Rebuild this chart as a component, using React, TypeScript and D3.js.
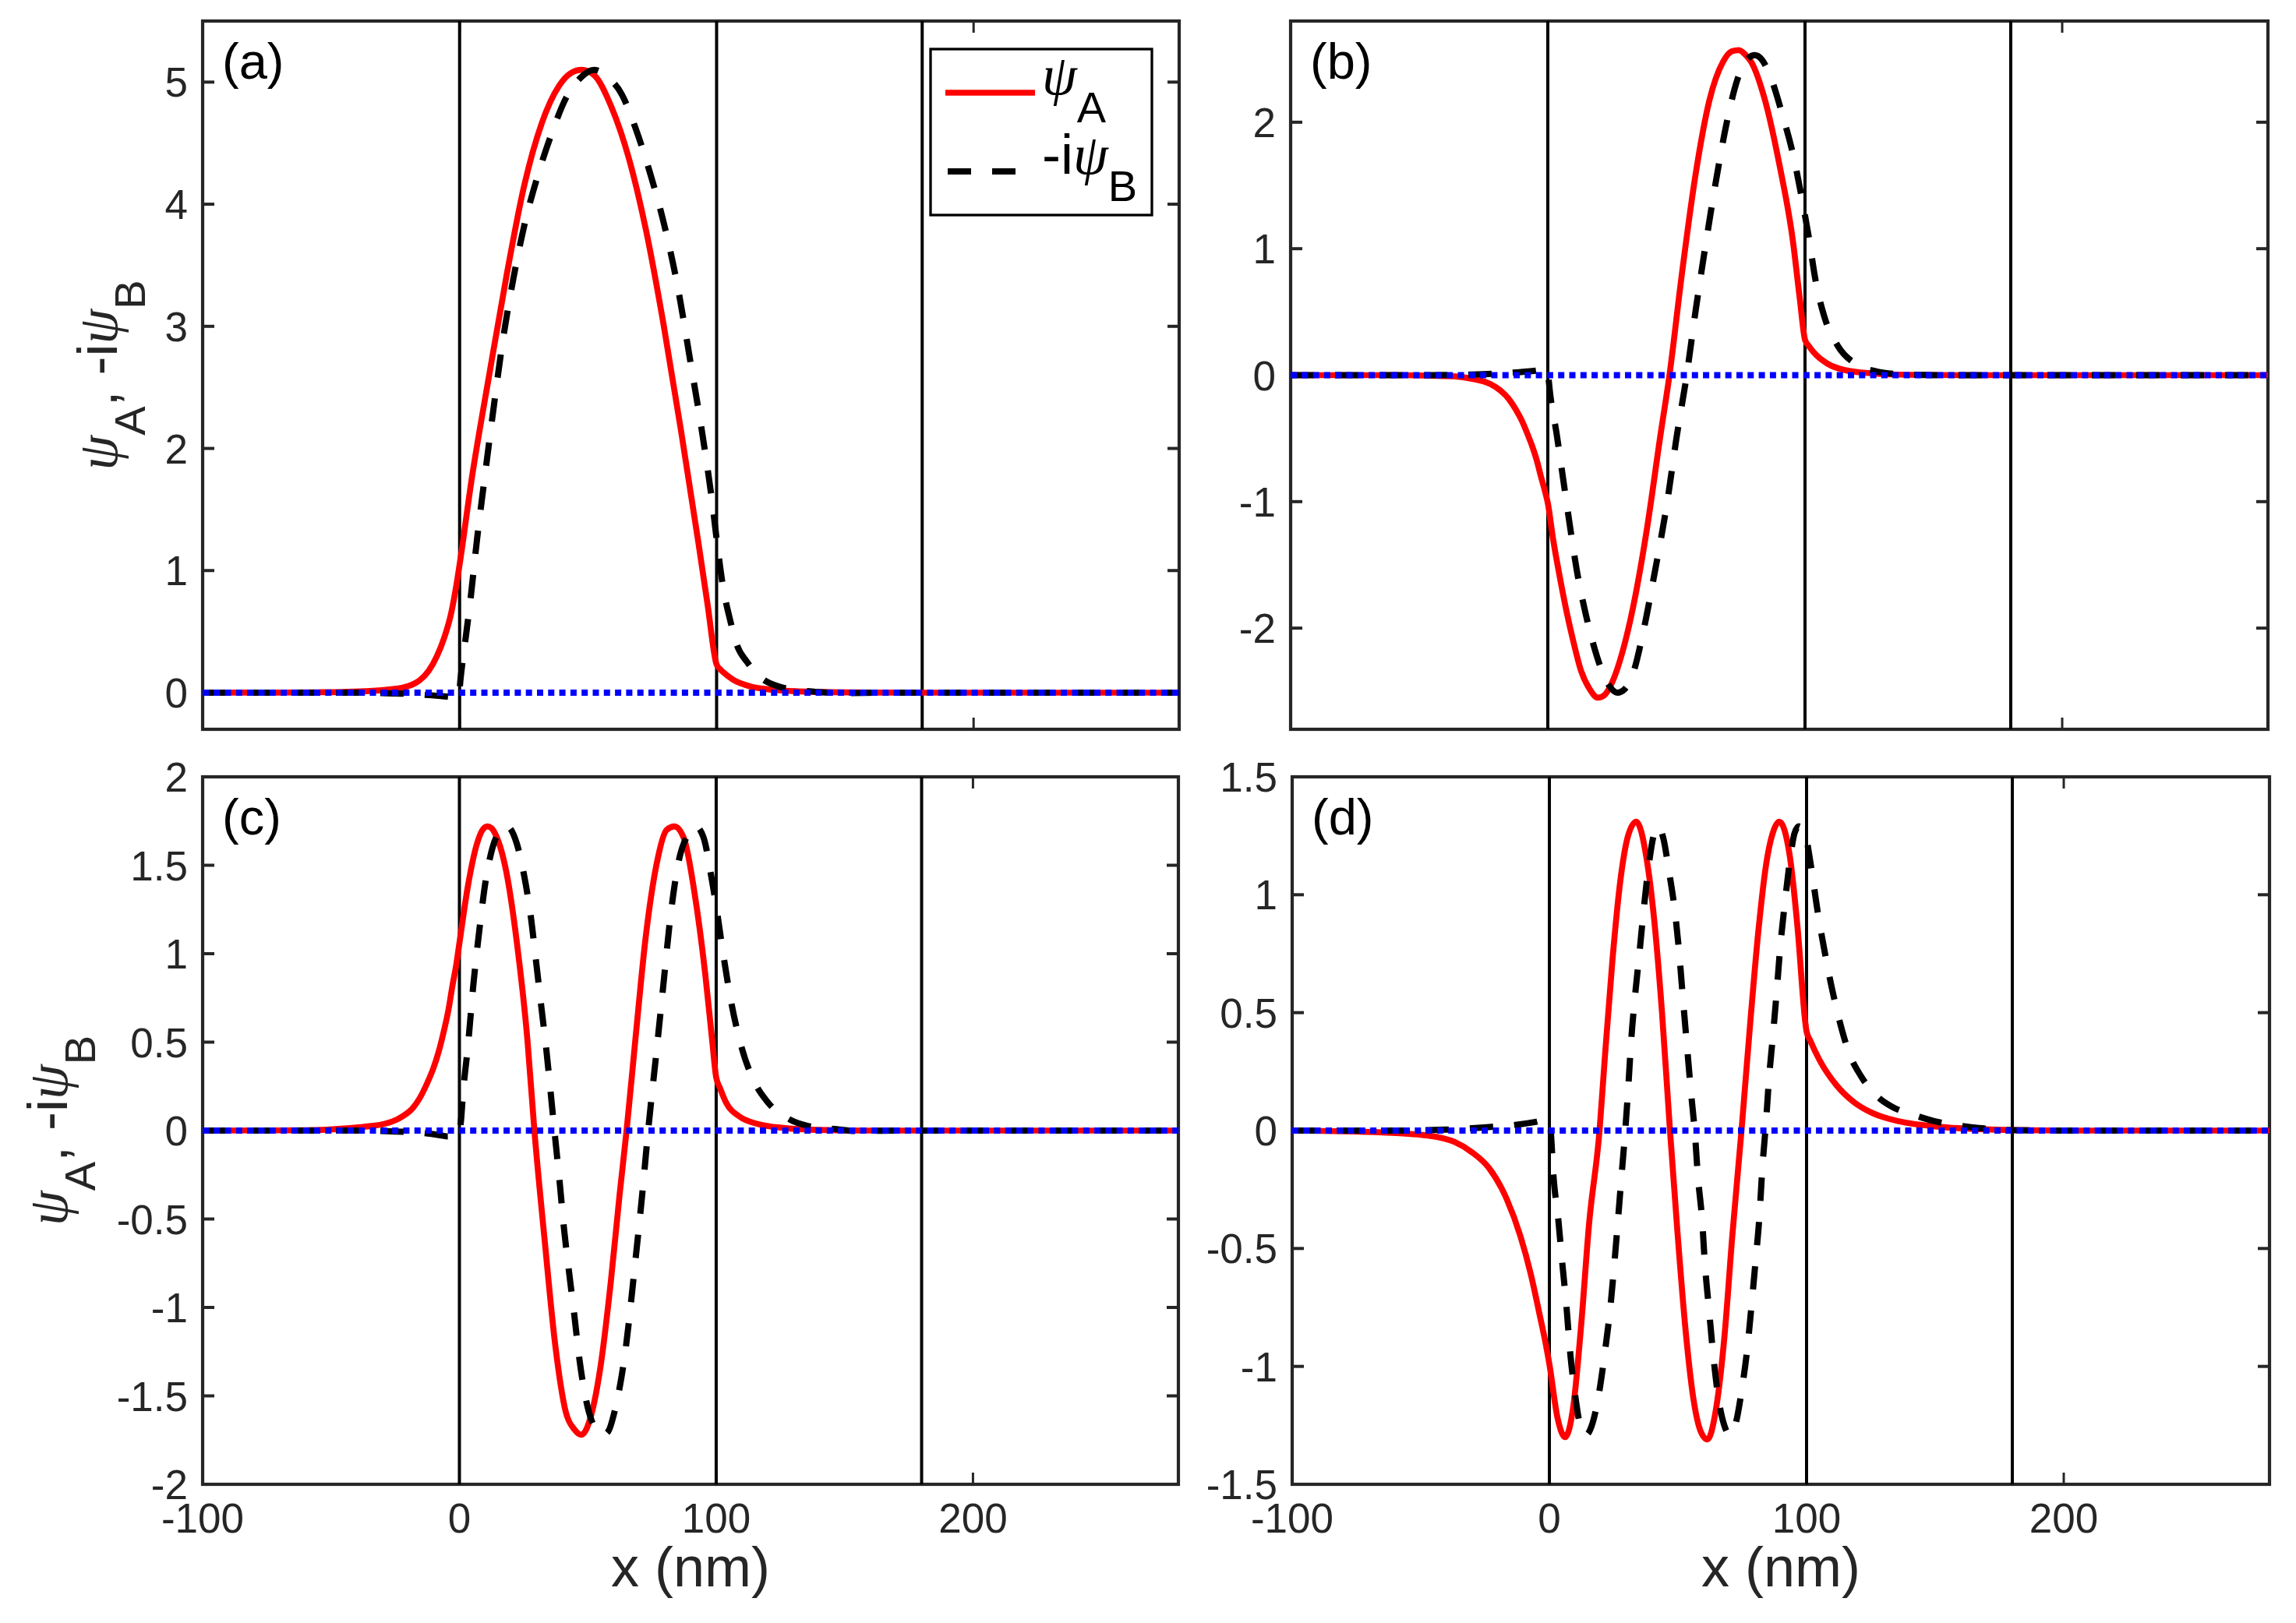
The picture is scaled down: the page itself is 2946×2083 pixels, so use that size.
import React from "react";
import * as d3 from "d3";

type Pt = [number, number];

// ---------- data ----------
const xDomain: [number, number] = [-100, 280];
const xTicks = [-100, 0, 100, 200];
const boundaries = [0, 100, 180];

const yDomainA: [number, number] = [-0.3, 5.5];
const yTicksA = [0, 1, 2, 3, 4, 5];
const yDomainB: [number, number] = [-2.8, 2.8];
const yTicksB = [-2, -1, 0, 1, 2];
const yDomainC: [number, number] = [-2, 2];
const yTicksC = [-2, -1.5, -1, -0.5, 0, 0.5, 1, 1.5, 2];
const yDomainD: [number, number] = [-1.5, 1.5];
const yTicksD = [-1.5, -1, -0.5, 0, 0.5, 1, 1.5];

const imagLine: Pt[] = [[-100, 0], [280, 0]];

const aPsiA: Pt[] = [[-100,0],[-70,0.001],[-55,0.003],[-45,0.006],[-35,0.013],[-28,0.025],[-22.4,0.04],[-18,0.07],[-15.6,0.1],[-12,0.18],[-8.8,0.3],[-6,0.45],[-3.4,0.64],[-1.5,0.85],[0,1.05],[4.7,1.75],[11.5,2.6],[18.3,3.42],[25.1,4.15],[31.9,4.66],[38.7,4.97],[43,5.07],[47.5,5.1],[52.2,5.06],[59,4.8],[65.8,4.38],[72.6,3.78],[79.4,3.01],[86.2,2.14],[92.9,1.23],[96.5,0.72],[100,0.23],[101.5,0.19],[103,0.16],[106.5,0.105],[113.3,0.05],[120,0.028],[126.9,0.016],[140,0.005],[160,0.001],[180,0],[280,0]];
const aPsiB: Pt[] = [[-100,0],[-45,0],[-30,-0.004],[-20,-0.01],[-12,-0.02],[-6,-0.03],[-2,-0.035],[-0.3,-0.03],[0.3,0.1],[2,0.39],[4.1,0.74],[6.8,1.26],[9.5,1.72],[12.9,2.28],[17,2.91],[21,3.4],[25.1,3.82],[30.5,4.24],[36,4.59],[41.4,4.87],[46.8,5.03],[52.2,5.1],[57.7,5.04],[63.1,4.9],[68.5,4.62],[73.9,4.27],[79.4,3.85],[84.8,3.33],[90.2,2.66],[94.3,2.14],[98.4,1.54],[100,1.26],[102.4,0.88],[105.2,0.6],[107.9,0.39],[111.9,0.25],[117.4,0.12],[124.2,0.05],[132.3,0.02],[140,0.005],[150,-0.004],[165,0],[280,0]];

const bPsiA: Pt[] = [[-100,0],[-56,0],[-45,-0.004],[-35.8,-0.01],[-29,-0.03],[-22.3,-0.07],[-18.5,-0.12],[-15.5,-0.18],[-12.5,-0.27],[-10.1,-0.36],[-8,-0.46],[-6.1,-0.56],[-4.2,-0.68],[-2.7,-0.8],[-1.2,-0.91],[0,-1.01],[2,-1.29],[4.7,-1.6],[7.4,-1.88],[10.1,-2.12],[12.8,-2.33],[16.2,-2.48],[19.5,-2.55],[22,-2.53],[25,-2.43],[29,-2.19],[33.1,-1.84],[38.5,-1.22],[43.9,-0.46],[47.3,0],[52,0.78],[57.4,1.58],[62.8,2.17],[68.2,2.48],[71.5,2.56],[74.3,2.57],[77,2.53],[79,2.48],[84.5,2.17],[89.9,1.68],[95.3,1.06],[98,0.6],[100,0.28],[101.5,0.23],[103.4,0.18],[108.8,0.09],[115.5,0.04],[126.4,0.014],[140,0.003],[160,0],[280,0]];
const bPsiB: Pt[] = [[-100,0],[-45,0],[-30,0.005],[-20,0.012],[-12,0.022],[-6,0.032],[-2,0.04],[-0.3,0.04],[0.3,-0.03],[0.7,-0.11],[3.4,-0.46],[6.1,-0.84],[8.8,-1.22],[11.5,-1.57],[14.2,-1.84],[17.6,-2.12],[20.9,-2.33],[24,-2.46],[27,-2.51],[30,-2.48],[33.1,-2.36],[37.2,-2.02],[41.2,-1.6],[46.6,-0.98],[50,-0.5],[54,0],[57.4,0.5],[61.5,1.05],[65.5,1.55],[69.6,2.0],[73.6,2.33],[77.7,2.5],[80.5,2.53],[83,2.5],[85.8,2.4],[91.2,2.06],[95.3,1.75],[99.3,1.34],[101.4,1.1],[104.1,0.75],[107.4,0.47],[112.8,0.23],[119.6,0.09],[127.7,0.03],[135,0.01],[150,0],[280,0]];

const cPsiA: Pt[] = [[-100,0],[-60,0.002],[-42.7,0.014],[-35,0.025],[-29.2,0.038],[-22.4,0.078],[-18,0.13],[-15.6,0.18],[-12.5,0.27],[-10.2,0.35],[-8,0.45],[-6.1,0.56],[-4.3,0.68],[-2.7,0.82],[-1.2,0.94],[0,1.06],[3.4,1.39],[6.8,1.62],[9,1.7],[10.9,1.72],[12.5,1.71],[14.2,1.67],[18.3,1.46],[22.4,1.06],[26.5,0.51],[29.2,0],[33.2,-0.62],[37.3,-1.21],[41.4,-1.59],[44.8,-1.69],[47.5,-1.72],[50.9,-1.63],[55,-1.33],[59,-0.85],[62.4,-0.36],[65.1,0],[68.5,0.51],[72.6,1.1],[76.7,1.5],[80.7,1.7],[83.7,1.72],[87.5,1.65],[91.6,1.34],[95.7,0.89],[98.5,0.5],[100,0.3],[101.5,0.24],[103.8,0.16],[109.2,0.078],[116,0.038],[126.9,0.014],[140,0.004],[160,0],[280,0]];
const cPsiB: Pt[] = [[-100,0],[-40,0],[-25,-0.005],[-15,-0.012],[-8,-0.025],[-4.7,-0.033],[-1,-0.03],[0,0],[0.5,0.04],[1.4,0.21],[3.4,0.49],[5.4,0.82],[7.5,1.1],[10.2,1.41],[12.9,1.6],[15.6,1.69],[18.5,1.72],[22.4,1.62],[25.1,1.45],[27.8,1.21],[29.9,0.95],[31.9,0.7],[33.9,0.45],[35.3,0.25],[37,0],[39.1,-0.3],[40.7,-0.55],[42.7,-0.8],[44.8,-1.05],[46.8,-1.3],[49,-1.5],[51.5,-1.64],[54,-1.7],[56,-1.72],[58,-1.7],[60.4,-1.59],[64.5,-1.26],[68.5,-0.74],[71.2,-0.36],[73.5,0],[76.7,0.44],[79.4,0.82],[82.1,1.2],[85.5,1.53],[88.9,1.67],[92,1.72],[95,1.66],[98.4,1.41],[100,1.27],[102.4,1.03],[105.8,0.73],[109.9,0.47],[114.7,0.28],[120.1,0.16],[128.2,0.066],[136.4,0.024],[147,0.008],[155,-0.003],[170,0],[280,0]];

const dPsiA: Pt[] = [[-100,0],[-80,-0.003],[-65,-0.008],[-57,-0.012],[-50,-0.018],[-43.6,-0.027],[-36.9,-0.048],[-30.1,-0.092],[-23.4,-0.16],[-16.6,-0.29],[-11.2,-0.45],[-7.2,-0.61],[-3.8,-0.78],[-1.5,-0.9],[0,-0.99],[3.2,-1.22],[6.1,-1.3],[9.3,-1.17],[12.4,-0.82],[15.4,-0.4],[19.5,0],[21.5,0.3],[24.5,0.72],[27.6,1.06],[30.6,1.25],[33.8,1.31],[37.7,1.16],[40.7,0.9],[43.8,0.5],[46.9,0],[49.8,-0.43],[52.9,-0.84],[55.9,-1.13],[59,-1.28],[61.5,-1.31],[64.5,-1.2],[68.1,-0.87],[71.1,-0.45],[74.7,0],[78.2,0.47],[81.3,0.85],[84.3,1.13],[86.8,1.26],[89.4,1.31],[93.4,1.17],[96.5,0.86],[99.5,0.46],[100,0.42],[101.5,0.38],[105,0.3],[111.8,0.19],[118.5,0.12],[125.3,0.076],[132,0.05],[138.8,0.033],[145.5,0.023],[155,0.013],[165,0.007],[180,0.002],[200,0],[280,0]];
const dPsiB: Pt[] = [[-100,0],[-60,0],[-40,0.004],[-30,0.01],[-23.4,0.015],[-12.6,0.025],[-5.8,0.036],[-1.1,0.046],[0,0.03],[0.5,0],[1.5,-0.18],[3.5,-0.38],[5,-0.56],[6.6,-0.74],[8,-0.93],[10,-1.12],[12,-1.25],[14.3,-1.29],[16.5,-1.25],[19.2,-1.12],[21.7,-0.93],[23.8,-0.74],[25.3,-0.56],[26.6,-0.39],[28,-0.2],[29.5,0],[30.6,0.17],[31.8,0.38],[33.3,0.57],[35,0.75],[36.7,0.94],[38.7,1.13],[40.5,1.25],[42.2,1.29],[44.3,1.24],[46.5,1.1],[48.8,0.93],[50.5,0.75],[52,0.55],[53.5,0.36],[55,0.17],[56.5,0],[57.8,-0.2],[59.4,-0.38],[60.5,-0.57],[62,-0.75],[63.7,-0.95],[65.8,-1.14],[68,-1.25],[70.2,-1.29],[72.5,-1.24],[74.8,-1.1],[77,-0.92],[78.7,-0.73],[80.2,-0.55],[81.7,-0.36],[82.8,-0.16],[84.2,0.03],[85.4,0.22],[86.9,0.4],[88.4,0.59],[89.7,0.77],[91.5,0.96],[93.6,1.15],[95.3,1.26],[97,1.29],[99.6,1.25],[101.6,1.13],[104.3,0.93],[107.7,0.72],[111.8,0.51],[116.5,0.33],[121.2,0.23],[128,0.14],[133.4,0.1],[141.5,0.067],[149.6,0.04],[160,0.02],[170,0.008],[180,0.002],[200,0],[280,0]];

const panelLabels = ["(a)", "(b)", "(c)", "(d)"];
const legendLabels = ["A", "B"];

// ---------- layout ----------
const W = 2946;
const H = 2083;
const SANS = "'Liberation Sans', Arial, Helvetica, sans-serif";
const SERIF = "'Liberation Serif', 'DejaVu Serif', serif";
const AXC = "#262626";
const TICK_FS = 53;
const LABEL_FS = 72;
const SUB_FS = 56;
const SUB_DY = 36;

interface Panel {
  left: number; right: number; top: number; bottom: number;
  yDomain: [number, number]; yTicks: number[];
  psiA: Pt[]; psiB: Pt[]; label: string;
  showX: boolean; yLabelX: number | null; legend: boolean;
}

const panels: Panel[] = [
  { left: 260, right: 1513, top: 27, bottom: 936, yDomain: yDomainA, yTicks: yTicksA, psiA: aPsiA, psiB: aPsiB, label: panelLabels[0], showX: false, yLabelX: 150, legend: true },
  { left: 1656, right: 2910, top: 27, bottom: 936, yDomain: yDomainB, yTicks: yTicksB, psiA: bPsiA, psiB: bPsiB, label: panelLabels[1], showX: false, yLabelX: null, legend: false },
  { left: 260, right: 1512, top: 997, bottom: 1905, yDomain: yDomainC, yTicks: yTicksC, psiA: cPsiA, psiB: cPsiB, label: panelLabels[2], showX: true, yLabelX: 86, legend: false },
  { left: 1658, right: 2912, top: 997, bottom: 1905, yDomain: yDomainD, yTicks: yTicksD, psiA: dPsiA, psiB: dPsiB, label: panelLabels[3], showX: true, yLabelX: null, legend: false },
];

const YLabel: React.FC<{ x: number; y: number }> = ({ x, y }) => (
  <text transform={`translate(${x},${y}) rotate(-90)`} textAnchor="middle" fontFamily={SANS} fontSize={LABEL_FS} fill={AXC}>
    <tspan fontFamily={SERIF} fontStyle="italic">ψ</tspan>
    <tspan fontSize={SUB_FS} dy={SUB_DY}>A</tspan>
    <tspan dy={-SUB_DY}>, -i</tspan>
    <tspan fontFamily={SERIF} fontStyle="italic">ψ</tspan>
    <tspan fontSize={SUB_FS} dy={SUB_DY}>B</tspan>
  </text>
);

const Legend: React.FC = () => {
  const bx = 1194, by = 63, bw = 284, bh = 213;
  const l0 = 1213, l1 = 1328, tx = 1337;
  const r1 = 119, r2 = 220;
  return (
    <g>
      <rect x={bx} y={by} width={bw} height={bh} fill="white" stroke="black" strokeWidth={3.3} />
      <line x1={l0} x2={l1} y1={r1} y2={r1} stroke="#FF0000" strokeWidth={7.7} />
      <line x1={l0 + 3} x2={l1} y1={r2} y2={r2} stroke="black" strokeWidth={8} strokeDasharray="30 27" />
      <text x={tx} y={r1 + 2} fontFamily={SANS} fontSize={LABEL_FS} fill="black">
        <tspan fontFamily={SERIF} fontStyle="italic">ψ</tspan>
        <tspan fontSize={SUB_FS} dy={SUB_DY}>{legendLabels[0]}</tspan>
      </text>
      <text x={tx} y={r2 + 3} fontFamily={SANS} fontSize={LABEL_FS} fill="black">
        <tspan>-i</tspan>
        <tspan fontFamily={SERIF} fontStyle="italic">ψ</tspan>
        <tspan fontSize={SUB_FS} dy={SUB_DY - 1}>{legendLabels[1]}</tspan>
      </text>
    </g>
  );
};

const PanelView: React.FC<{ p: Panel }> = ({ p }) => {
  const xs = d3.scaleLinear().domain(xDomain).range([p.left, p.right]);
  const ys = d3.scaleLinear().domain(p.yDomain).range([p.bottom, p.top]);
  const line = d3.line<Pt>().x((d) => xs(d[0])).y((d) => ys(d[1])).curve(d3.curveMonotoneX);
  const straight = d3.line<Pt>().x((d) => xs(d[0])).y((d) => ys(d[1]));
  const tl = 15;
  const cy = (p.top + p.bottom) / 2;
  const cx = (p.left + p.right) / 2;
  return (
    <g>
      {/* frame */}
      <rect x={p.left} y={p.top} width={p.right - p.left} height={p.bottom - p.top} fill="none" stroke={AXC} strokeWidth={4.2} />
      {/* y ticks */}
      {p.yTicks.map((t) => (
        <g key={"y" + t}>
          <line x1={p.left} x2={p.left + tl} y1={ys(t)} y2={ys(t)} stroke={AXC} strokeWidth={4} />
          <line x1={p.right} x2={p.right - tl} y1={ys(t)} y2={ys(t)} stroke={AXC} strokeWidth={4} />
          <text x={p.left - 19} y={ys(t) + 0.36 * TICK_FS} textAnchor="end" fontFamily={SANS} fontSize={TICK_FS} fill={AXC}>{String(t)}</text>
        </g>
      ))}
      {/* x ticks */}
      {xTicks.map((t) => (
        <g key={"x" + t}>
          <line x1={xs(t)} x2={xs(t)} y1={p.bottom} y2={p.bottom - tl} stroke={AXC} strokeWidth={3} />
          <line x1={xs(t)} x2={xs(t)} y1={p.top} y2={p.top + tl} stroke={AXC} strokeWidth={3} />
          {p.showX && (
            <text x={xs(t)} y={p.bottom + 62} textAnchor="middle" fontFamily={SANS} fontSize={TICK_FS} fill={AXC}>{String(t)}</text>
          )}
        </g>
      ))}
      {/* boundaries */}
      {boundaries.map((b) => (
        <line key={"b" + b} x1={xs(b)} x2={xs(b)} y1={p.top} y2={p.bottom} stroke="black" strokeWidth={4} />
      ))}
      {/* data */}
      <path d={line(p.psiA) || ""} fill="none" stroke="#FF0000" strokeWidth={7.7} strokeLinejoin="round" />
      <path d={line(p.psiB) || ""} fill="none" stroke="black" strokeWidth={8} strokeDasharray="30 27" />
      <path d={straight(imagLine) || ""} fill="none" stroke="#0000FF" strokeWidth={8} strokeDasharray="8 6.3" />
      {/* panel label */}
      <text x={p.left + 25} y={p.top + 74} fontFamily={SANS} fontSize={65} fill="black">{p.label}</text>
      {p.showX && (
        <text x={cx} y={p.bottom + 131} textAnchor="middle" fontFamily={SANS} fontSize={LABEL_FS} fill={AXC}>x (nm)</text>
      )}
      {p.yLabelX !== null && <YLabel x={p.yLabelX} y={cy} />}
      {p.legend && <Legend />}
    </g>
  );
};

export default function App() {
  return (
    <svg width={W} height={H} viewBox={`0 0 ${W} ${H}`} style={{ position: "absolute", left: 0, top: 0, background: "white" }}>
      <rect x={0} y={0} width={W} height={H} fill="white" />
      {panels.map((p, i) => <PanelView key={i} p={p} />)}
    </svg>
  );
}
